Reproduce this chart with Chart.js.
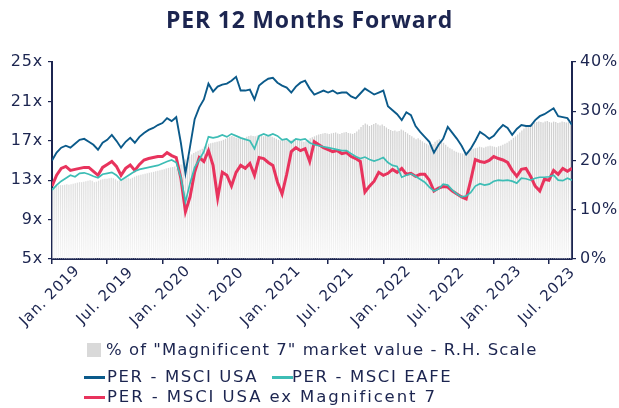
<!DOCTYPE html>
<html>
<head>
<meta charset="utf-8">
<script src="https://cdn.jsdelivr.net/npm/chart.js@4.4.1/dist/chart.umd.min.js"></script>
<style>
  html, body { margin: 0; padding: 0; background: #ffffff; }
  #wrap { position: relative; width: 619px; height: 408px; }
  canvas { position: absolute; left: 0; top: 0; }
  .lg { position: absolute; font-family: "DejaVu Sans", sans-serif; font-size: 16.5px; letter-spacing: 1.6px; color: #1c2550; white-space: nowrap; line-height: 20px; }
  .sw-box { position: absolute; width: 14px; height: 14px; background: #d9d9d9; }
  .sw-line { position: absolute; width: 21px; height: 3px; }
</style>
</head>
<body>
<div id="wrap">
  <canvas id="c" width="619" height="408"></canvas>
  <div class="sw-box" style="left:87px; top:343px;"></div>
  <div class="lg" style="left:106px; top:340px; letter-spacing:1.05px;">% of "Magnificent 7" market value - R.H. Scale</div>
  <div class="sw-line" style="left:84px; top:376px; background:#0b5a8a;"></div>
  <div class="lg" style="left:107px; top:367px;">PER - MSCI USA</div>
  <div class="sw-line" style="left:272px; top:376px; background:#3dbdb5;"></div>
  <div class="lg" style="left:292px; top:367px;">PER - MSCI EAFE</div>
  <div class="sw-line" style="left:84px; top:396px; background:#e8335d;"></div>
  <div class="lg" style="left:107px; top:387px; letter-spacing:1.9px;">PER - MSCI USA ex Magnificent 7</div>
</div>
<script>
// ---- Data ----
const xTickLabels = ['Jan. 2019','Jul. 2019','Jan. 2020','Jul. 2020','Jan. 2021','Jul. 2021','Jan. 2022','Jul. 2022','Jan. 2023','Jul. 2023'];
const xTickMonths = [0, 6, 12, 18, 24, 30, 36, 42, 48, 54]; // months since Jan. 2019

// Weekly share of "Magnificent 7" in market value (%), from Jan. 2019
const mag7Share = [
  14.4,14.6,14.8,14.9,15.0, 15.0,15.1,15.2,15.1, 15.2,15.3,15.4,15.5,15.6,15.6,15.7,
  15.8,15.9,16.0,15.9,15.6,15.7, 15.9,16.1,16.2,16.3,16.3,16.4,16.5, 16.4,16.2,15.9,16.0,16.2,16.3,
  16.4,16.5,16.3,16.5,16.7, 16.9,17.0,17.1,17.2,17.3,17.4, 17.5,17.6,17.7,17.8,17.9,18.0,18.1,
  18.2,18.4,18.5,18.6,18.7,18.8, 18.4,18.6, 19.2,19.8,20.2,20.5,20.8, 21.2,21.5,21.8,22.0,22.2,22.4,
  22.8,23.1,23.4,23.5,23.6,23.7,23.8,23.9,24.0, 24.2,24.4,24.6,24.8,25.0,24.8,24.6,24.5,24.7,24.6,24.5,
  24.8,25.0,25.1,25.0,24.9,25.1,25.2,25.0,24.9,25.0,25.2,25.1,24.8,
  24.6,24.4,24.2,24.1,24.3,24.4,24.2,24.0,24.1,24.3,24.4,24.2,24.0,23.9,23.8,
  23.9,24.2,24.5,24.7,24.9,25.1,25.3,25.4,25.5,25.6,25.5,
  25.4,25.5,25.6,25.7,25.5,25.4,25.6,25.7,25.8,25.6,25.5,25.4,25.6,25.9,26.3,
  26.8,27.2,27.5,27.3,27.0,27.2,27.4,27.6,27.3,27.1,27.3,27.0,26.7,
  26.4,26.2,26.0,26.1,25.9,26.0,26.3,26.1,25.8,25.5,25.2,
  24.9,24.6,24.3,24.5,24.2,23.9,23.6,23.4,23.1,22.9,23.3,23.8,24.1,
  24.3,24.0,23.6,23.2,22.8,22.5,22.3,22.0,21.8,21.6,21.5,21.4,21.6,
  21.8,22.0,22.2,22.4,22.5,22.6,22.8,22.7,22.6,22.8,22.9,23.0,22.9,22.8,22.7,22.9,23.0,23.2,23.4,23.6,23.9,24.2,
  24.6,24.9,25.3,25.7,26.1,26.5,26.9,27.2,27.4,
  27.6,27.7,27.8,27.9,27.8,27.7,27.9,28.0,27.8,27.7,27.9,27.8,27.6,27.7,27.9,27.8,27.7,27.8,27.9
];

// Half-monthly PER readings, from Jan. 2019
const perUSA = [
  15.0,15.8,16.3,16.5,16.3,16.7,17.1,17.2,16.9,16.6,
  16.1,16.8,17.1,17.6,17.0,16.3,16.9,17.3,16.8,17.4,
  17.8,18.1,18.3,18.6,18.8,19.3,19.0,19.4,16.8,13.7,
  16.4,19.2,20.4,21.2,22.8,22.0,22.5,22.7,22.8,23.1,
  23.5,22.1,22.1,22.2,21.2,22.6,23.0,23.3,23.4,22.9,
  22.6,22.4,21.9,22.5,22.9,23.1,22.3,21.7,21.9,22.1,
  21.9,22.1,21.8,21.9,21.9,21.5,21.3,21.8,22.3,22.0,
  21.7,21.9,22.1,20.5,20.1,19.7,19.1,19.9,19.6,18.5,
  17.9,17.4,16.9,15.8,16.6,17.2,18.4,17.8,17.2,16.5,
  15.6,16.2,17.0,17.9,17.6,17.2,17.5,18.1,18.6,18.3,
  17.6,18.2,18.6,18.5,18.5,19.1,19.5,19.7,20.0,20.3,
  19.5,19.4,19.3,18.6
];
const perEAFE = [
  12.0,12.5,12.9,13.2,13.5,13.35,13.7,13.75,13.6,13.4,
  13.25,13.6,13.7,13.8,13.5,13.0,13.3,13.6,13.9,14.1,
  14.2,14.3,14.4,14.5,14.7,14.9,15.05,14.8,13.3,10.8,
  12.7,14.3,15.1,15.9,17.4,17.3,17.4,17.6,17.4,17.7,
  17.5,17.3,17.15,17.0,16.2,17.5,17.7,17.5,17.7,17.5,
  17.1,17.2,16.8,17.2,17.1,17.2,16.8,16.6,16.5,16.4,
  16.3,16.2,16.1,16.0,16.0,15.7,15.4,15.2,15.35,15.1,
  14.95,15.1,15.3,14.8,14.5,14.4,13.3,13.5,13.65,13.4,
  13.1,12.8,12.3,11.9,12.1,12.6,12.5,12.0,11.6,11.3,
  11.4,11.75,12.4,12.65,12.5,12.6,12.9,13.0,12.95,13.0,
  12.9,12.7,13.2,13.15,13.0,13.2,13.3,13.3,13.35,13.5,
  13.0,12.95,13.2,13.0
];
const perUSAexMag7 = [
  12.4,13.5,14.2,14.4,14.0,14.1,14.2,14.3,14.3,13.9,
  13.5,14.3,14.6,14.9,14.4,13.5,14.2,14.55,14.0,14.6,
  15.05,15.2,15.3,15.4,15.4,15.8,15.5,15.3,13.2,9.8,
  11.3,13.8,15.3,14.9,16.0,14.5,11.2,13.8,13.5,12.4,
  13.8,14.5,14.2,14.7,13.5,15.3,15.2,14.8,14.5,12.8,
  11.6,13.6,15.9,16.3,16.0,16.2,14.9,16.9,16.6,16.3,
  16.1,15.9,16.0,15.7,15.8,15.4,15.2,14.9,11.8,12.4,
  12.9,13.8,13.5,13.7,14.1,13.8,14.2,13.6,13.7,13.4,
  13.6,13.6,13.0,11.9,12.2,12.35,12.3,11.9,11.6,11.3,
  11.1,13.0,15.1,14.9,14.8,15.0,15.4,15.2,15.05,14.8,
  14.0,13.4,14.1,14.2,13.4,12.4,11.9,13.1,13.0,14.0,
  13.6,14.2,13.9,14.2
];

// ---- Helpers (dates -> months since Jan. 2019) ----
const weekToMonth = k => k * 12 / 52.18;
const halfMonth = i => i * 0.5;
const toPts = (arr, fx) => arr.map((v, i) => ({ x: fx(i), y: v }));

const NAVY = '#1c2550';
const TICKFONT = '"DejaVu Sans", sans-serif';
const TITLEFONT = '"Open Sans", sans-serif';

const spacingPlugin = {
  id: 'spacing',
  beforeLayout(chart) { chart.ctx.letterSpacing = '0.8px'; },
  beforeDraw(chart) { chart.ctx.letterSpacing = '0.8px'; }
};

const xLabelPlugin = {
  id: 'xLabels',
  afterDraw(chart) {
    const xs = chart.scales.x;
    const ctx = chart.ctx;
    ctx.save();
    ctx.fillStyle = NAVY;
    ctx.font = '15px ' + TICKFONT;
    ctx.letterSpacing = '0.8px';
    ctx.textAlign = 'center';
    ctx.textBaseline = 'middle';
    xTickLabels.forEach((lab, i) => {
      const px = xs.getPixelForValue(xTickMonths[i]);
      ctx.save();
      ctx.translate(px - 2, xs.top + 37);
      ctx.rotate(-Math.PI / 4);
      ctx.fillText(lab, 0, 0);
      ctx.restore();
    });
    ctx.restore();
  }
};

const ctx = document.getElementById('c').getContext('2d');
new Chart(ctx, {
  data: {
    datasets: [
      { type: 'line', label: 'PER - MSCI EAFE', data: toPts(perEAFE, halfMonth), borderColor: '#3dbdb5', borderWidth: 1.7, pointRadius: 0, tension: 0, yAxisID: 'y' },
      { type: 'line', label: 'PER - MSCI USA ex Magnificent 7', data: toPts(perUSAexMag7, halfMonth), borderColor: '#e8335d', borderWidth: 3, pointRadius: 0, tension: 0, yAxisID: 'y' },
      { type: 'line', label: 'PER - MSCI USA', data: toPts(perUSA, halfMonth), borderColor: '#0b5a8a', borderWidth: 1.9, pointRadius: 0, tension: 0, yAxisID: 'y' },
      { type: 'bar', label: '% of "Magnificent 7" market value - R.H. Scale', data: toPts(mag7Share, weekToMonth), yAxisID: 'y1',
        barPercentage: 0.6, categoryPercentage: 1.0,
        backgroundColor: (c) => {
          const area = c.chart.chartArea;
          if (!area) return '#dddddd';
          const g = c.chart.ctx.createLinearGradient(0, area.top, 0, area.bottom);
          g.addColorStop(0, '#c4c4c4');
          g.addColorStop(0.5, '#d6d6d6');
          g.addColorStop(1, '#f6f6f6');
          return g;
        } }
    ]
  },
  options: {
    responsive: false,
    animation: false,
    layout: { padding: 0 },
    plugins: {
      legend: { display: false },
      tooltip: { enabled: false },
      title: {
        display: true, text: 'PER 12 Months Forward', color: NAVY,
        font: { family: TITLEFONT, size: 23, weight: 'bold' },
        padding: { top: 8, bottom: 26.4 }
      }
    },
    scales: {
      x: {
        type: 'linear', min: 0, max: 56.5, position: 'bottom', offset: false,
        afterBuildTicks: s => { s.ticks = xTickMonths.map(v => ({ value: v })); },
        afterFit: s => { s.height = 149; },
        ticks: { display: false },
        grid: { display: true, offset: false, drawOnChartArea: false, drawTicks: true, tickLength: 5, color: NAVY, lineWidth: 1.5 },
        border: { display: true, color: NAVY, width: 2 }
      },
      y: {
        position: 'left', min: 5, max: 25,
        afterBuildTicks: s => { const t = []; for (let v = 5; v <= 25; v += 2) t.push({ value: v }); s.ticks = t; },
        afterFit: s => { s.width = 52; },
        ticks: { color: NAVY, font: { family: TICKFONT, size: 16 }, padding: 5, callback: v => ((v - 5) % 4 === 0 ? v + 'x' : '') },
        grid: { display: true, drawOnChartArea: false, drawTicks: true, tickLength: 4, color: NAVY, lineWidth: 1.2 },
        border: { display: true, color: NAVY, width: 2 }
      },
      y1: {
        position: 'right', min: 0, max: 40,
        afterBuildTicks: s => { s.ticks = [0, 10, 20, 30, 40].map(v => ({ value: v })); },
        afterFit: s => { s.width = 47; },
        ticks: { color: NAVY, font: { family: TICKFONT, size: 16 }, padding: 4, callback: v => v + '%' },
        grid: { display: true, drawOnChartArea: false, drawTicks: true, tickLength: 4, color: NAVY, lineWidth: 1.2 },
        border: { display: true, color: NAVY, width: 2 }
      }
    }
  },
  plugins: [spacingPlugin, xLabelPlugin]
});
</script>
</body>
</html>
